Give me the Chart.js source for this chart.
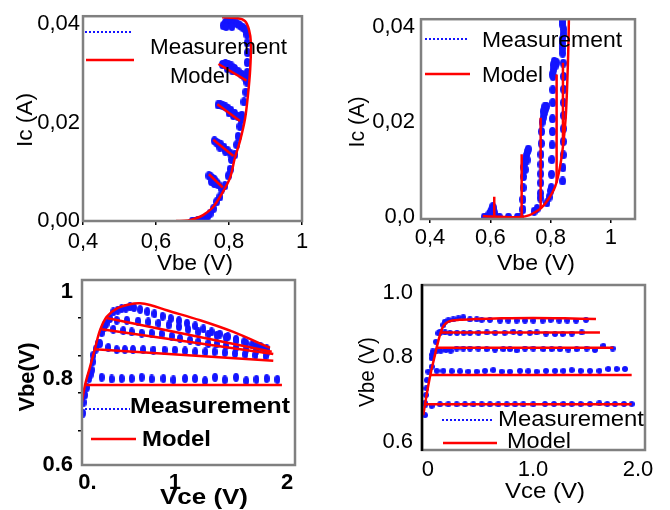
<!DOCTYPE html>
<html><head><meta charset="utf-8">
<script src="https://cdn.jsdelivr.net/npm/chart.js@4.4.1/dist/chart.umd.min.js"></script>
<style>
html,body{margin:0;padding:0;background:#fff;}
#wrap{position:relative;width:670px;height:510px;overflow:hidden;background:#fff;}
#wrap canvas{position:absolute;left:0;top:0;}
</style></head><body>
<div id="wrap">
<canvas id="c1" width="670" height="510"></canvas>
<canvas id="c2" width="670" height="510"></canvas>
<canvas id="c3" width="670" height="510"></canvas>
<canvas id="c4" width="670" height="510"></canvas>
</div>
<script>
// ---------- Panel 1 : Ic vs Vbe ----------
const p1XTicks = [0.4, 0.6, 0.8, 1.0];
const p1XLabels = ['0,4', '0,6', '0,8', '1'];
const p1YTicks = [0, 0.02, 0.04];
const p1YLabels = ['0,00', '0,02', '0,04'];
const p1ModelVbe = [0.655, 0.688, 0.708, 0.729, 0.756, 0.781, 0.803, 0.816, 0.830, 0.844, 0.852, 0.858, 0.860, 0.855, 0.844, 0.825, 0.781];
const p1ModelIc  = [0, 0.0001, 0.0005, 0.0012, 0.0028, 0.0056, 0.0088, 0.0128, 0.0162, 0.0208, 0.0256, 0.0308, 0.0362, 0.0388, 0.0406, 0.0412, 0.0414];
const p1BranchStartVbe = [0.745, 0.757, 0.768, 0.771];
const p1BranchStartIc  = [0.0095, 0.0165, 0.0237, 0.0319];
const p1BranchEndVbe   = [0.783, 0.812, 0.830, 0.848];
const p1BranchEndIc    = [0.0068, 0.0132, 0.0203, 0.0285];
const p1MeasCurveVbe = [0.700, 0.707, 0.714, 0.721, 0.728, 0.735, 0.742, 0.748, 0.757, 0.766, 0.775, 0.780, 0.789, 0.798, 0.803, 0.807, 0.816, 0.821, 0.825, 0.830, 0.835, 0.841, 0.846, 0.849, 0.850, 0.850, 0.851, 0.850, 0.849];
const p1MeasCurveIc  = [0, 0, 0.0001, 0, 0.0003, 0.0006, 0.0010, 0.0015, 0.0025, 0.0039, 0.0049, 0.0065, 0.0072, 0.0092, 0.0105, 0.0125, 0.0135, 0.0155, 0.0172, 0.0192, 0.0215, 0.0242, 0.0262, 0.0282, 0.0302, 0.0322, 0.0342, 0.0362, 0.0379];
const p1MeasBlobVbe = [0.745, 0.750, 0.755, 0.760, 0.765, 0.770, 0.752, 0.760,
  0.760, 0.765, 0.770, 0.778, 0.786, 0.795, 0.803, 0.790, 0.775,
  0.770, 0.776, 0.783, 0.790, 0.797, 0.805, 0.815, 0.825, 0.833, 0.800, 0.812,
  0.782, 0.790, 0.798, 0.806, 0.815, 0.825, 0.835, 0.843, 0.848, 0.795, 0.810,
  0.784, 0.790, 0.797, 0.805, 0.813, 0.822, 0.830, 0.838, 0.845, 0.792, 0.808];
const p1MeasBlobIc = [0.0092, 0.0090, 0.0086, 0.0084, 0.0079, 0.0074, 0.0080, 0.0076,
  0.0163, 0.0160, 0.0158, 0.0155, 0.0150, 0.0144, 0.0138, 0.0142, 0.0150,
  0.0236, 0.0236, 0.0234, 0.0232, 0.0229, 0.0225, 0.0219, 0.0212, 0.0206, 0.0220, 0.0214,
  0.0318, 0.0320, 0.0318, 0.0315, 0.0310, 0.0304, 0.0298, 0.0292, 0.0288, 0.0310, 0.0305,
  0.0397, 0.0403, 0.0405, 0.0403, 0.0403, 0.0401, 0.0397, 0.0393, 0.0389, 0.0395, 0.0395];

// ---------- Panel 2 : Ic vs Vbe ----------
const p2XTicks = [0.4, 0.6, 0.8, 1.0];
const p2XLabels = ['0,4', '0,6', '0,8', '1'];
const p2YTicks = [0, 0.02, 0.04];
const p2YLabels = ['0,0', '0,02', '0,04'];
const p2ModelVbe = [0.575, 0.600, 0.650, 0.704, 0.730, 0.748, 0.770, 0.792, 0.815, 0.831, 0.842, 0.850, 0.855, 0.859, 0.861];
const p2ModelIc  = [0.0002, 0.0001, 0, 0, 0.0004, 0.0010, 0.0020, 0.0037, 0.0064, 0.0105, 0.0154, 0.0209, 0.0278, 0.0360, 0.0430];
const p2BranchVbe    = [0.613, 0.704, 0.767, 0.820, 0.841];
const p2BranchLowIc  = [0.0001, 0.0001, 0.0019, 0.0072, 0.0150];
const p2BranchHighIc = [0.0043, 0.0132, 0.0209, 0.0300, 0.0325];
const p2MeasBaseVbe = [0.580, 0.590, 0.600, 0.630, 0.660, 0.690, 0.700, 0.745, 0.755, 0.595, 0.600, 0.605, 0.608, 0.612, 0.615, 0.603];
const p2MeasBaseIc  = [0, 0, 0, 0, 0, 0, 0, 0.0012, 0.0018, 0.0005, 0.0010, 0.0015, 0.0022, 0.0018, 0.0008, 0.0004];
const p2MeasColBVbe = [0.708, 0.708, 0.709, 0.710, 0.711, 0.714, 0.717, 0.720, 0.723, 0.726, 0.722, 0.716];
const p2MeasColBIc  = [0.0016, 0.0037, 0.0062, 0.0085, 0.0105, 0.0113, 0.0122, 0.0130, 0.0138, 0.0143, 0.0120, 0.0100];
const p2MeasColCVbe = [0.766, 0.766, 0.767, 0.767, 0.768, 0.768, 0.769, 0.770, 0.772, 0.776, 0.780, 0.784, 0.786, 0.780, 0.775];
const p2MeasColCIc  = [0.0040, 0.0050, 0.0072, 0.0091, 0.0111, 0.0132, 0.0155, 0.0180, 0.0200, 0.0210, 0.0220, 0.0228, 0.0233, 0.0232, 0.0222];
const p2MeasColDVbe = [0.788, 0.795, 0.800, 0.802, 0.803, 0.804, 0.805, 0.806, 0.806, 0.807, 0.807, 0.808, 0.805, 0.810, 0.815, 0.820, 0.812, 0.808];
const p2MeasColDIc  = [0.0030, 0.0042, 0.0055, 0.0062, 0.0090, 0.0121, 0.0152, 0.0180, 0.0207, 0.0241, 0.0268, 0.0296, 0.0300, 0.0310, 0.0318, 0.0325, 0.0328, 0.0320];
const p2MeasColEVbe = [0.840, 0.841, 0.842, 0.842, 0.842, 0.843, 0.843, 0.843, 0.843, 0.842, 0.840, 0.838, 0.838, 0.840, 0.842, 0.844, 0.840, 0.838];
const p2MeasColEIc  = [0.0076, 0.0104, 0.0131, 0.0159, 0.0186, 0.0214, 0.0241, 0.0269, 0.0296, 0.0324, 0.0345, 0.0355, 0.0365, 0.0375, 0.0385, 0.0395, 0.0405, 0.0412];

// ---------- Panel 3 : Vbe vs Vce ----------
const p3XTicks = [0.044, 0.90, 2.0];
const p3XLabels = ['0.', '1', '2'];
const p3YTicks = [0.6, 0.679, 0.766, 0.8, 0.852, 0.94, 1.0];
const p3YLabels = ['0.6', '', '', '0.8', '', '', '1'];
const p3CurveVce = [-0.013, 0.02, 0.069, 0.118, 0.167, 0.232, 0.33, 0.461, 0.559, 0.657, 0.82, 1.147, 1.474, 1.833];
const p3CurveVbe = [0.743, 0.785, 0.827, 0.870, 0.912, 0.943, 0.962, 0.972, 0.974, 0.970, 0.958, 0.935, 0.908, 0.871];
const p3LineStartVce = [0.232, 0.183, 0.118, 0.02];
const p3LineStartVbe = [0.940, 0.914, 0.868, 0.785];
const p3LineEndVce   = [1.85, 1.865, 1.865, 1.95];
const p3LineEndVbe   = [0.862, 0.857, 0.841, 0.785];
const p3RiseVce = [0.0, 0.005, 0.02, 0.04, 0.06, 0.075, 0.085, 0.095, 0.10, 0.125, 0.15, 0.183, 0.21, 0.232, 0.265];
const p3RiseVbe = [0.720, 0.745, 0.762, 0.780, 0.800, 0.810, 0.820, 0.839, 0.854, 0.868, 0.881, 0.906, 0.918, 0.928, 0.939];
const p3RowAVce = [0.297, 0.34, 0.379, 0.42, 0.461, 0.50, 0.56, 0.63, 0.70, 0.78, 0.86, 0.94, 1.02, 1.10, 1.18, 1.26, 1.34, 1.42, 1.50, 1.58, 1.66, 1.74, 1.80];
const p3RowAVbe = [0.954, 0.958, 0.962, 0.963, 0.966, 0.964, 0.960, 0.955, 0.950, 0.944, 0.939, 0.934, 0.928, 0.922, 0.915, 0.908, 0.903, 0.897, 0.891, 0.885, 0.879, 0.874, 0.869];
const p3RowBVce = [0.33, 0.43, 0.54, 0.64, 0.74, 0.84, 0.94, 1.03, 1.13, 1.23, 1.31, 1.40, 1.50, 1.60, 1.70, 1.78];
const p3RowBVbe = [0.935, 0.935, 0.933, 0.931, 0.928, 0.924, 0.920, 0.914, 0.908, 0.903, 0.900, 0.895, 0.888, 0.882, 0.875, 0.868];
const p3RowCVce = [0.216, 0.297, 0.395, 0.477, 0.575, 0.673, 0.771, 0.87, 0.951, 1.049, 1.13, 1.228, 1.31, 1.40, 1.50, 1.60, 1.70, 1.80];
const p3RowCVbe = [0.924, 0.914, 0.911, 0.908, 0.905, 0.905, 0.903, 0.898, 0.893, 0.889, 0.885, 0.881, 0.880, 0.876, 0.872, 0.868, 0.864, 0.860];
const p3RowDVce = [0.167, 0.248, 0.33, 0.41, 0.49, 0.59, 0.69, 0.80, 0.90, 1.0, 1.1, 1.2, 1.29, 1.39, 1.49, 1.59, 1.69, 1.79];
const p3RowDVbe = [0.881, 0.872, 0.867, 0.867, 0.867, 0.867, 0.866, 0.866, 0.866, 0.864, 0.862, 0.862, 0.862, 0.860, 0.858, 0.856, 0.854, 0.852];
const p3RowEVce = [0.183, 0.281, 0.379, 0.477, 0.575, 0.673, 0.788, 0.886, 1.0, 1.098, 1.196, 1.294, 1.39, 1.5, 1.6, 1.7, 1.8, 1.905];
const p3RowEVbe = [0.803, 0.799, 0.800, 0.800, 0.803, 0.799, 0.800, 0.797, 0.800, 0.800, 0.795, 0.803, 0.797, 0.803, 0.795, 0.798, 0.800, 0.798];

// ---------- Panel 4 : Vbe vs Vce ----------
const p4XTicks = [0, 1.0, 2.0];
const p4XLabels = ['0', '1.0', '2.0'];
const p4YTicks = [0.6, 0.828, 1.0];
const p4YLabels = ['0.6', '0.8', '1.0'];
const p4CurveVce = [-0.045, -0.02, 0.005, 0.03, 0.06, 0.09, 0.12, 0.15, 0.20, 0.30, 0.45, 0.70, 1.0, 1.3, 1.6];
const p4CurveVbe = [0.672, 0.715, 0.755, 0.790, 0.826, 0.862, 0.893, 0.913, 0.924, 0.928, 0.930, 0.932, 0.933, 0.932, 0.930];
const p4LineStartVce = [0.12, 0.083, 0.02, -0.03];
const p4LineVbe      = [0.894, 0.853, 0.780, 0.701];
const p4LineEndVce   = [1.638, 1.765, 1.94, 1.94];
const p4RiseVce = [-0.029, -0.025, -0.02, -0.015, -0.01, 0.035, 0.035, 0.04, 0.045, 0.076, 0.098, 0.114, 0.146];
const p4RiseVbe = [0.672, 0.700, 0.726, 0.744, 0.766, 0.802, 0.825, 0.834, 0.843, 0.869, 0.892, 0.896, 0.914];
const p4Row1Vce = [0.162, 0.194, 0.241, 0.289, 0.336, 0.40, 0.464, 0.511, 0.59, 0.686, 0.765, 0.844, 0.924, 1.003, 1.092, 1.168, 1.25, 1.327, 1.41, 1.505];
const p4Row1Vbe = [0.923, 0.927, 0.929, 0.932, 0.935, 0.929, 0.929, 0.928, 0.928, 0.926, 0.926, 0.926, 0.926, 0.926, 0.926, 0.928, 0.926, 0.926, 0.926, 0.928];
const p4Row2Vce = [0.114, 0.162, 0.21, 0.276, 0.34, 0.40, 0.48, 0.56, 0.64, 0.73, 0.813, 0.876, 0.97, 1.035, 1.123, 1.21, 1.283, 1.37, 1.464];
const p4Row2Vbe = [0.893, 0.894, 0.893, 0.893, 0.893, 0.893, 0.893, 0.894, 0.893, 0.893, 0.896, 0.893, 0.893, 0.894, 0.891, 0.890, 0.890, 0.891, 0.894];
const p4Row3Vce = [0.083, 0.121, 0.171, 0.216, 0.273, 0.336, 0.40, 0.479, 0.559, 0.638, 0.717, 0.781, 0.845, 0.924, 1.003, 1.098, 1.178, 1.257, 1.336, 1.416, 1.511, 1.59, 1.67, 1.759];
const p4Row3Vbe = [0.845, 0.845, 0.847, 0.845, 0.851, 0.851, 0.851, 0.851, 0.849, 0.848, 0.849, 0.849, 0.846, 0.851, 0.851, 0.849, 0.849, 0.849, 0.848, 0.849, 0.851, 0.847, 0.858, 0.851];
const p4Row4Vce = [0.003, 0.083, 0.146, 0.226, 0.305, 0.384, 0.464, 0.543, 0.622, 0.702, 0.781, 0.876, 0.955, 1.035, 1.124, 1.21, 1.289, 1.369, 1.454, 1.543, 1.632, 1.717, 1.797, 1.876];
const p4Row4Vbe = [0.789, 0.791, 0.791, 0.790, 0.790, 0.789, 0.789, 0.791, 0.793, 0.789, 0.789, 0.791, 0.790, 0.789, 0.791, 0.791, 0.791, 0.793, 0.791, 0.791, 0.791, 0.796, 0.796, 0.796];
const p4Row5Vce = [-0.029, 0.035, 0.114, 0.194, 0.273, 0.352, 0.432, 0.511, 0.59, 0.67, 0.75, 0.829, 0.908, 1.003, 1.114, 1.2, 1.289, 1.369, 1.454, 1.543, 1.632, 1.708, 1.781, 1.867, 1.94];
const p4Row5Vbe = [0.705, 0.697, 0.701, 0.701, 0.701, 0.701, 0.701, 0.701, 0.701, 0.701, 0.701, 0.701, 0.701, 0.701, 0.702, 0.702, 0.702, 0.702, 0.702, 0.702, 0.704, 0.702, 0.702, 0.702, 0.702];

// ---------- helpers ----------
const BLUE = '#1414ff', RED = '#ff0000';
const FAMILY = '"Liberation Sans", Arial, sans-serif';
Chart.defaults.font.family = FAMILY;

function pts(xs, ys) { return xs.map((x, i) => ({ x: x, y: ys[i] })); }
function seg(x0, y0, x1, y1) { return [{ x: x0, y: y0 }, { x: x1, y: y1 }]; }
function dotImg(w, h) {
  const c = document.createElement('canvas'); c.width = w; c.height = h;
  const g = c.getContext('2d'); g.fillStyle = BLUE;
  g.beginPath(); g.ellipse(w / 2, h / 2, w / 2, h / 2, 0, 0, Math.PI * 2); g.fill();
  return c;
}
function fitText(ctx, t) {
  ctx.save();
  ctx.font = (t.bold ? 'bold ' : '') + '22px ' + FAMILY;
  ctx.fillStyle = '#000'; ctx.textBaseline = 'middle'; ctx.textAlign = 'center';
  const m = ctx.measureText(t.t).width;
  ctx.translate(t.x, t.y);
  if (t.rot) ctx.rotate(-Math.PI / 2);
  ctx.scale(t.w / m, 1);
  ctx.fillText(t.t, 0, 0);
  ctx.restore();
}
function decoPlugin(d) {
  return { id: 'deco', afterDraw(chart) {
    const ctx = chart.ctx, a = chart.chartArea;
    ctx.save();
    ctx.strokeStyle = '#808080'; ctx.lineWidth = 2.5;
    ctx.strokeRect(a.left, a.top, a.right - a.left, a.bottom - a.top);
    if (d.leftBlack) {
      ctx.strokeStyle = '#000'; ctx.lineWidth = 2.5;
      ctx.beginPath(); ctx.moveTo(a.left, a.top - 1); ctx.lineTo(a.left, a.bottom + 1); ctx.stroke();
    }
    d.lines.forEach(l => {
      ctx.save();
      ctx.strokeStyle = l.c; ctx.lineWidth = l.lw;
      if (l.dash) ctx.setLineDash(l.dash);
      ctx.beginPath(); ctx.moveTo(l.x1, l.y); ctx.lineTo(l.x2, l.y); ctx.stroke();
      ctx.restore();
    });
    d.texts.forEach(t => fitText(ctx, t));
    ctx.restore();
  }};
}
function makeChart(id, c) {
  const box = c.box;
  const tickFont = { family: FAMILY, size: 22, weight: c.bold ? 'bold' : 'normal' };
  const datasets = [];
  c.model.forEach(m => datasets.push({ data: m.d, showLine: true, borderColor: RED, backgroundColor: RED,
    borderWidth: 2.5, pointRadius: 0, pointHoverRadius: 0, tension: m.t || 0, fill: false }));
  datasets.push({ data: c.meas, showLine: false, pointStyle: c.dot, pointRadius: 4, pointHoverRadius: 4,
    borderColor: BLUE, backgroundColor: BLUE });
  new Chart(document.getElementById(id), {
    type: 'scatter',
    data: { datasets: datasets },
    options: {
      responsive: false, animation: false, devicePixelRatio: 1, events: [],
      layout: { padding: { left: 0, top: box.top, right: 670 - box.right, bottom: 0 } },
      plugins: { legend: { display: false }, tooltip: { enabled: false } },
      scales: {
        x: {
          type: 'linear', min: c.x.min, max: c.x.max,
          afterBuildTicks: s => { s.ticks = c.x.ticks.map(v => ({ value: v })); },
          afterFit: s => { s.height = 510 - box.bottom; },
          ticks: { autoSkip: false, maxRotation: 0, minRotation: 0, padding: c.x.pad, color: '#000', font: tickFont,
            callback: (v, i) => c.x.labels[i] },
          grid: { drawOnChartArea: false, drawTicks: c.x.tl > 0, tickLength: c.x.tl, color: '#000', lineWidth: 1.5 },
          border: { display: false }
        },
        y: {
          type: 'linear', min: c.y.min, max: c.y.max,
          afterBuildTicks: s => { s.ticks = c.y.ticks.map(v => ({ value: v })); },
          afterFit: s => { s.width = box.left; },
          ticks: { autoSkip: false, padding: c.y.pad, color: '#000', font: tickFont,
            callback: (v, i) => c.y.labels[i] },
          grid: { drawOnChartArea: false, drawTicks: c.y.tl > 0, tickLength: c.y.tl, lineWidth: 1.5,
            color: ctx => (ctx.tick && c.y.labels[c.y.ticks.indexOf(ctx.tick.value)] === '') ? '#000' : 'rgba(0,0,0,0)' },
          border: { display: false }
        }
      }
    },
    plugins: [decoPlugin(c.deco)]
  });
}

// ---------- Panel 1 ----------
makeChart('c1', {
  box: { left: 83, top: 13, right: 302, bottom: 221 },
  x: { min: 0.4, max: 1.0, ticks: p1XTicks, labels: p1XLabels, tl: 4, pad: 4 },
  y: { min: 0, max: 0.0416, ticks: p1YTicks, labels: p1YLabels, tl: 0, pad: 3 },
  model: [{ d: pts(p1ModelVbe, p1ModelIc), t: 0.3 }].concat(
    p1BranchStartVbe.map((v, i) => ({ d: seg(v, p1BranchStartIc[i], p1BranchEndVbe[i], p1BranchEndIc[i]) }))),
  meas: pts(p1MeasCurveVbe, p1MeasCurveIc).concat(pts(p1MeasBlobVbe, p1MeasBlobIc)),
  dot: dotImg(7, 9),
  deco: {
    lines: [{ x1: 85, x2: 132, y: 32, c: BLUE, lw: 2, dash: [2, 2] }, { x1: 86, x2: 134, y: 60, c: RED, lw: 2.5 }],
    texts: [
      { t: 'Ic (A)', x: 26, y: 120, w: 54, rot: true },
      { t: 'Vbe (V)', x: 195, y: 264, w: 76 },
      { t: 'Measurement', x: 218.5, y: 48, w: 137 },
      { t: 'Model', x: 200, y: 77, w: 60 }
    ]
  }
});

// ---------- Panel 2 ----------
makeChart('c2', {
  box: { left: 421, top: 15, right: 635, bottom: 219 },
  x: { min: 0.370, max: 1.080, ticks: p2XTicks, labels: p2XLabels, tl: 4, pad: 2 },
  y: { min: -0.00041, max: 0.04165, ticks: p2YTicks, labels: p2YLabels, tl: 0, pad: 6 },
  model: [{ d: pts(p2ModelVbe, p2ModelIc), t: 0.3 }].concat(
    p2BranchVbe.map((v, i) => ({ d: seg(v, p2BranchLowIc[i], v, p2BranchHighIc[i]) }))),
  meas: pts(p2MeasBaseVbe, p2MeasBaseIc).concat(pts(p2MeasColBVbe, p2MeasColBIc), pts(p2MeasColCVbe, p2MeasColCIc),
    pts(p2MeasColDVbe, p2MeasColDIc), pts(p2MeasColEVbe, p2MeasColEIc)),
  dot: dotImg(7, 9),
  deco: {
    lines: [{ x1: 425, x2: 468, y: 39, c: BLUE, lw: 2, dash: [2, 2] }, { x1: 425, x2: 470, y: 74, c: RED, lw: 2.5 }],
    texts: [
      { t: 'Ic (A)', x: 358, y: 122, w: 51, rot: true },
      { t: 'Vbe (V)', x: 536, y: 264, w: 78 },
      { t: 'Measurement', x: 552, y: 41, w: 140 },
      { t: 'Model', x: 512.5, y: 75.5, w: 61 }
    ]
  }
});

// ---------- Panel 3 ----------
makeChart('c3', {
  box: { left: 82, top: 280, right: 295, bottom: 465 },
  bold: true,
  x: { min: -0.0098, max: 2.078, ticks: p3XTicks, labels: p3XLabels, tl: 0, pad: 5 },
  y: { min: 0.6, max: 1.028, ticks: p3YTicks, labels: p3YLabels, tl: 4, pad: 5 },
  model: [{ d: pts(p3CurveVce, p3CurveVbe), t: 0.35 }].concat(
    p3LineStartVce.map((v, i) => ({ d: seg(v, p3LineStartVbe[i], p3LineEndVce[i], p3LineEndVbe[i]) }))),
  meas: pts(p3RiseVce, p3RiseVbe).concat(pts(p3RowAVce, p3RowAVbe), pts(p3RowBVce, p3RowBVbe),
    pts(p3RowCVce, p3RowCVbe), pts(p3RowDVce, p3RowDVbe), pts(p3RowEVce, p3RowEVbe)),
  dot: dotImg(6, 9),
  deco: {
    lines: [{ x1: 85, x2: 130, y: 409, c: BLUE, lw: 2, dash: [2, 2] }, { x1: 91, x2: 136, y: 439, c: RED, lw: 2.5 }],
    texts: [
      { t: 'Vbe(V)', x: 28, y: 377, w: 69, rot: true, bold: true },
      { t: 'Vce (V)', x: 204, y: 498, w: 88, bold: true },
      { t: 'Measurement', x: 210, y: 407, w: 160, bold: true },
      { t: 'Model', x: 176.5, y: 440, w: 69, bold: true }
    ]
  }
});

// ---------- Panel 4 ----------
makeChart('c4', {
  box: { left: 422, top: 285, right: 645, bottom: 450 },
  x: { min: -0.057, max: 2.067, ticks: p4XTicks, labels: p4XLabels, tl: 0, pad: 7 },
  y: { min: 0.5785, max: 1.0215, ticks: p4YTicks, labels: p4YLabels, tl: 0, pad: 9 },
  model: [{ d: pts(p4CurveVce, p4CurveVbe), t: 0.3 }].concat(
    p4LineStartVce.map((v, i) => ({ d: seg(v, p4LineVbe[i], p4LineEndVce[i], p4LineVbe[i]) }))),
  meas: pts(p4RiseVce, p4RiseVbe).concat(pts(p4Row1Vce, p4Row1Vbe), pts(p4Row2Vce, p4Row2Vbe),
    pts(p4Row3Vce, p4Row3Vbe), pts(p4Row4Vce, p4Row4Vbe), pts(p4Row5Vce, p4Row5Vbe)),
  dot: dotImg(6, 6),
  deco: {
    leftBlack: true,
    lines: [{ x1: 442, x2: 493, y: 420, c: BLUE, lw: 2, dash: [2, 2] }, { x1: 443, x2: 497, y: 443, c: RED, lw: 2.5 }],
    texts: [
      { t: 'Vbe (V)', x: 368, y: 372, w: 70, rot: true },
      { t: 'Vce (V)', x: 545, y: 492, w: 80 },
      { t: 'Measurement', x: 571, y: 420, w: 146 },
      { t: 'Model', x: 539, y: 442, w: 64 }
    ]
  }
});
</script>
</body></html>
